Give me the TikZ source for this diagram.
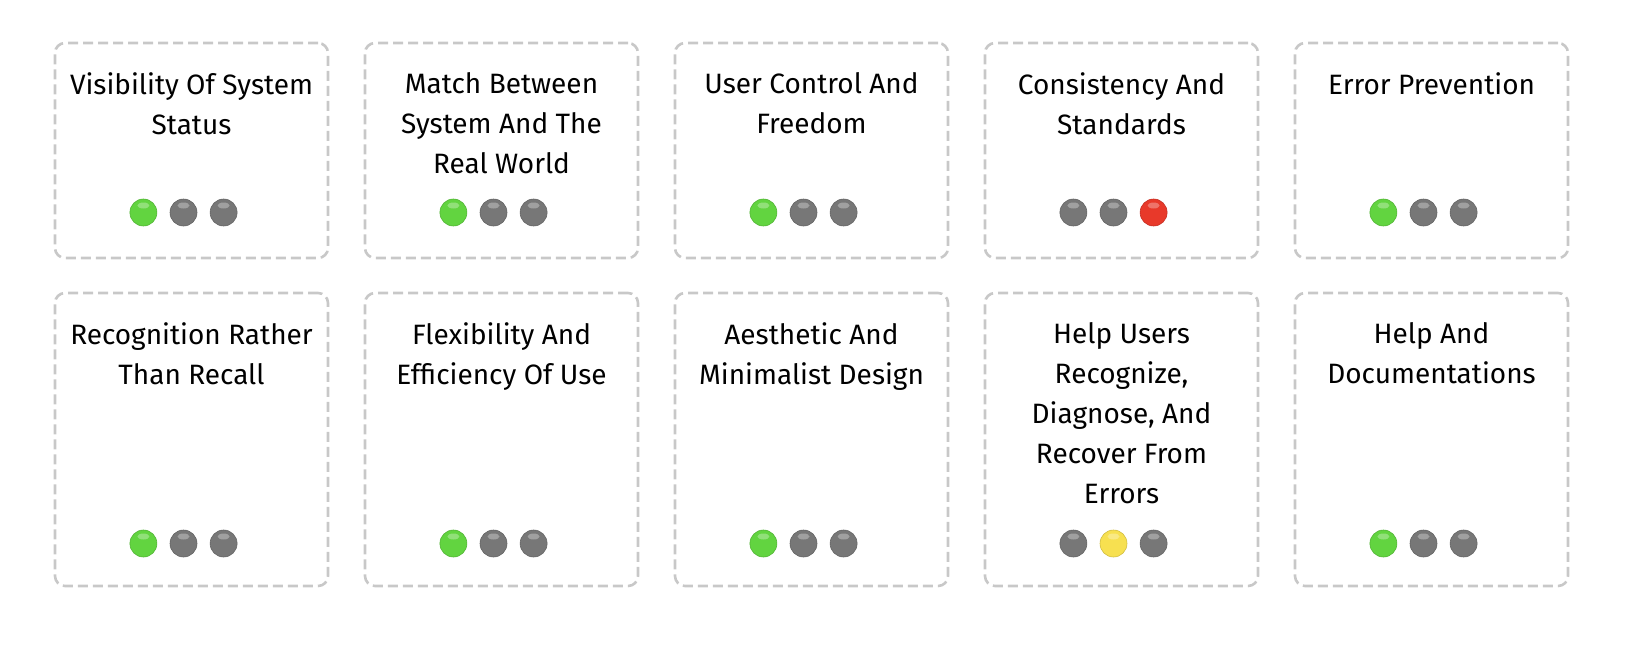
\documentclass[tikz,border=0pt]{standalone}
\usepackage{fontspec}
\setmainfont{Fira Sans}
\usepackage{xcolor}
\usepackage{tikz}
\usetikzlibrary{positioning}

\definecolor{cardgray}{RGB}{200,200,200}
\definecolor{dotgreen}{RGB}{98,212,64}
\definecolor{dotgray}{RGB}{119,119,119}
\definecolor{dotred}{RGB}{232,57,42}
\definecolor{dotyellow}{RGB}{247,224,80}

\begin{document}
\begin{tikzpicture}[x=1pt, y=-1pt]
		\tikzset{
			node distance=12.5pt and 12.5pt,
			card/.style={rectangle, draw=cardgray, dash pattern=on 10pt off 5pt, line width=2.6pt,
			minimum width=273pt, rounded corners=10pt},
			title/.style={align=center, inner sep=0pt, font=\fontsize{28}{40}\selectfont},
			dot/.style={circle, inner sep=0pt, minimum size=27pt, fill=#1, draw=#1!85!black, line width=0.6pt,
			path picture={\fill[white, opacity=0.3] ([yshift=7pt]path picture bounding box.center) ellipse (6pt and 3pt);}}
		}
		\useasboundingbox (0,0) rectangle (1638,646);

		% first row
		\node[card, minimum height=215pt](c1) at (191.5,150.5){};
		\node[card, minimum height=215pt](c2) at (501.5,150.5){};
		\node[card, minimum height=215pt](c3) at (811.5,150.5){};
		\node[card, minimum height=215pt](c4) at (1121.5,150.5){};
		\node[card, minimum height=215pt](c5) at (1431.5,150.5){};

		\node[title, below=30.5pt of c1.north](t1){Visibility Of System\\Status};
		\node[title, below=30.5pt of c2.north](t2){Match Between\\System And The\\Real World};
		\node[title, below=30.5pt of c3.north](t3){User Control And\\Freedom};
		\node[title, below=30.5pt of c4.north](t4){Consistency And\\Standards};
		\node[title, below=30.5pt of c5.north](t5){Error Prevention};

		% second row
		\node[card, minimum height=293pt](c6) at (191.5,439.5){};
		\node[card, minimum height=293pt](c7) at (501.5,439.5){};
		\node[card, minimum height=293pt](c8) at (811.5,439.5){};
		\node[card, minimum height=293pt](c9) at (1121.5,439.5){};
		\node[card, minimum height=293pt](c10) at (1431.5,439.5){};

		\node[title, below=30.5pt of c6.north](t6){Recognition Rather\\Than Recall};
		\node[title, below=30.5pt of c7.north](t7){Flexibility And\\Efficiency Of Use};
		\node[title, below=30.5pt of c8.north](t8){Aesthetic And\\Minimalist Design};
		\node[title, below=30.5pt of c9.north](t9){Help Users\\Recognize,\\Diagnose, And\\Recover From\\Errors};
		\node[title, below=30.5pt of c10.north](t10){Help And\\Documentations};

		% ratings
		\node[dot=dotgray, above=33pt of c1.south, xshift=-8pt](d1b){};
		\node[dot=dotgreen, left=of d1b](d1a){};
		\node[dot=dotgray, right=of d1b](d1c){};

		\node[dot=dotgray, above=33pt of c2.south, xshift=-8pt](d2b){};
		\node[dot=dotgreen, left=of d2b](d2a){};
		\node[dot=dotgray, right=of d2b](d2c){};

		\node[dot=dotgray, above=33pt of c3.south, xshift=-8pt](d3b){};
		\node[dot=dotgreen, left=of d3b](d3a){};
		\node[dot=dotgray, right=of d3b](d3c){};

		\node[dot=dotgray, above=33pt of c4.south, xshift=-8pt](d4b){};
		\node[dot=dotgray, left=of d4b](d4a){};
		\node[dot=dotred, right=of d4b](d4c){};

		\node[dot=dotgray, above=33pt of c5.south, xshift=-8pt](d5b){};
		\node[dot=dotgreen, left=of d5b](d5a){};
		\node[dot=dotgray, right=of d5b](d5c){};

		\node[dot=dotgray, above=30pt of c6.south, xshift=-8pt](d6b){};
		\node[dot=dotgreen, left=of d6b](d6a){};
		\node[dot=dotgray, right=of d6b](d6c){};

		\node[dot=dotgray, above=30pt of c7.south, xshift=-8pt](d7b){};
		\node[dot=dotgreen, left=of d7b](d7a){};
		\node[dot=dotgray, right=of d7b](d7c){};

		\node[dot=dotgray, above=30pt of c8.south, xshift=-8pt](d8b){};
		\node[dot=dotgreen, left=of d8b](d8a){};
		\node[dot=dotgray, right=of d8b](d8c){};

		\node[dot=dotyellow, above=30pt of c9.south, xshift=-8pt](d9b){};
		\node[dot=dotgray, left=of d9b](d9a){};
		\node[dot=dotgray, right=of d9b](d9c){};

		\node[dot=dotgray, above=30pt of c10.south, xshift=-8pt](d10b){};
		\node[dot=dotgreen, left=of d10b](d10a){};
		\node[dot=dotgray, right=of d10b](d10c){};

	\end{tikzpicture}
\end{document}
